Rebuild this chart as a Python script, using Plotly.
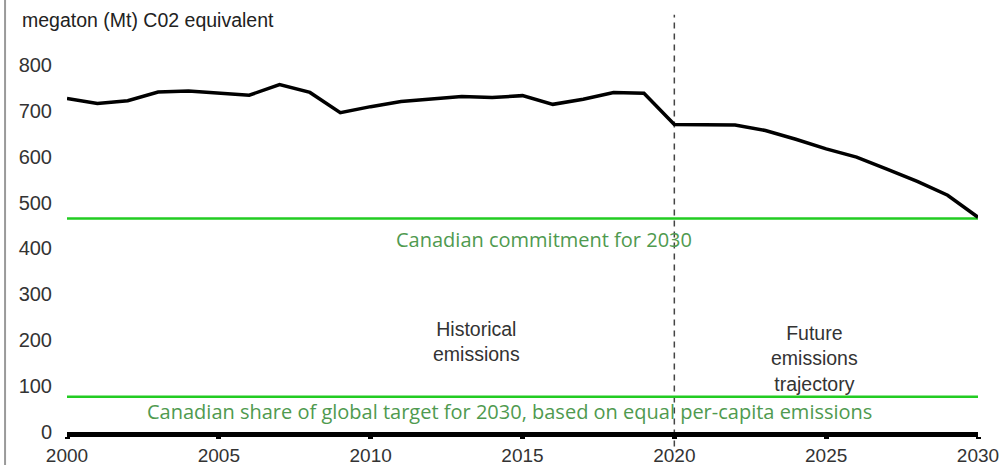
import plotly.graph_objects as go

years = list(range(2000, 2031))
emissions = [727, 716, 722, 741, 743, 739, 734, 757, 740, 696,
             709, 720, 726, 731, 729, 733, 714, 725, 740, 738,
             670, 670, 669, 657, 638, 617, 599, 573, 546, 516, 468]
commitment_2030 = 465
per_capita_share = 77
divider_year = 2020
x_ticks = [2000, 2005, 2010, 2015, 2020, 2025, 2030]
y_ticks = [0, 100, 200, 300, 400, 500, 600, 700, 800]

fig = go.Figure()

fig.add_trace(go.Scatter(
    x=[years[0], years[-1]], y=[commitment_2030, commitment_2030],
    mode="lines", line=dict(color="#22cc22", width=2.5), hoverinfo="skip"))
fig.add_trace(go.Scatter(
    x=[years[0], years[-1]], y=[per_capita_share, per_capita_share],
    mode="lines", line=dict(color="#22cc22", width=2.5), hoverinfo="skip"))
fig.add_trace(go.Scatter(
    x=years, y=emissions, mode="lines",
    line=dict(color="#000000", width=3.5)))

# dashed divider
fig.add_shape(type="line", xref="x", yref="paper", x0=divider_year, x1=divider_year,
              y0=-0.035, y1=1.01, line=dict(color="#444444", width=1.5, dash="6px,5px"),
              layer="below")
# left frame edge
fig.add_shape(type="line", xref="paper", yref="paper", x0=-0.068, x1=-0.068,
              y0=-0.09, y1=1.06, line=dict(color="#9a9a9a", width=2))

fig.add_annotation(xref="paper", yref="paper", x=-0.052, y=0.998, xanchor="left",
                   yanchor="middle", showarrow=False,
                   text="megaton (Mt) C02 equivalent",
                   font=dict(family="Liberation Sans, Arial", size=19.5, color="#222222"))
fig.add_annotation(x=2015.7, y=commitment_2030, yshift=-21, showarrow=False,
                   text="Canadian commitment for 2030",
                   font=dict(family="Open Sans", size=20, color="#4f9a4f"))
fig.add_annotation(x=2014.57, y=per_capita_share, yshift=-15, showarrow=False,
                   text="Canadian share of global target for 2030, based on equal per-capita emissions",
                   font=dict(family="Open Sans", size=20, color="#4f9a4f"))
fig.add_annotation(x=2013.5, y=197, showarrow=False,
                   text="Historical<br>emissions",
                   font=dict(family="Liberation Sans, Arial", size=19.5, color="#333333"))
fig.add_annotation(x=2024.6, y=160, showarrow=False,
                   text="Future<br>emissions<br>trajectory",
                   font=dict(family="Liberation Sans, Arial", size=19.5, color="#333333"))

fig.update_layout(
    width=1003, height=465,
    margin=dict(l=67, r=25, t=19, b=33, autoexpand=False),
    paper_bgcolor="white", plot_bgcolor="white",
    showlegend=False,
    xaxis=dict(range=[2000, 2030], tickvals=x_ticks, showgrid=False, zeroline=False,
               automargin=False,
               showline=True, linecolor="black", linewidth=5,
               ticks="outside", ticklen=2, tickwidth=4.5, tickcolor="black",
               ticklabelstandoff=0,
               tickfont=dict(family="Liberation Sans, Arial", size=19, color="#333333")),
    yaxis=dict(range=[0, 900], tickvals=y_ticks, showgrid=False, zeroline=False,
               automargin=False,
               showline=False, ticks="", ticklabelstandoff=14,
               tickfont=dict(family="Liberation Sans, Arial", size=20, color="#333333")),
)

fig.write_html("out.html", config={"displayModeBar": False},
               post_script="document.body.style.margin='0';document.body.style.overflow='hidden';")
